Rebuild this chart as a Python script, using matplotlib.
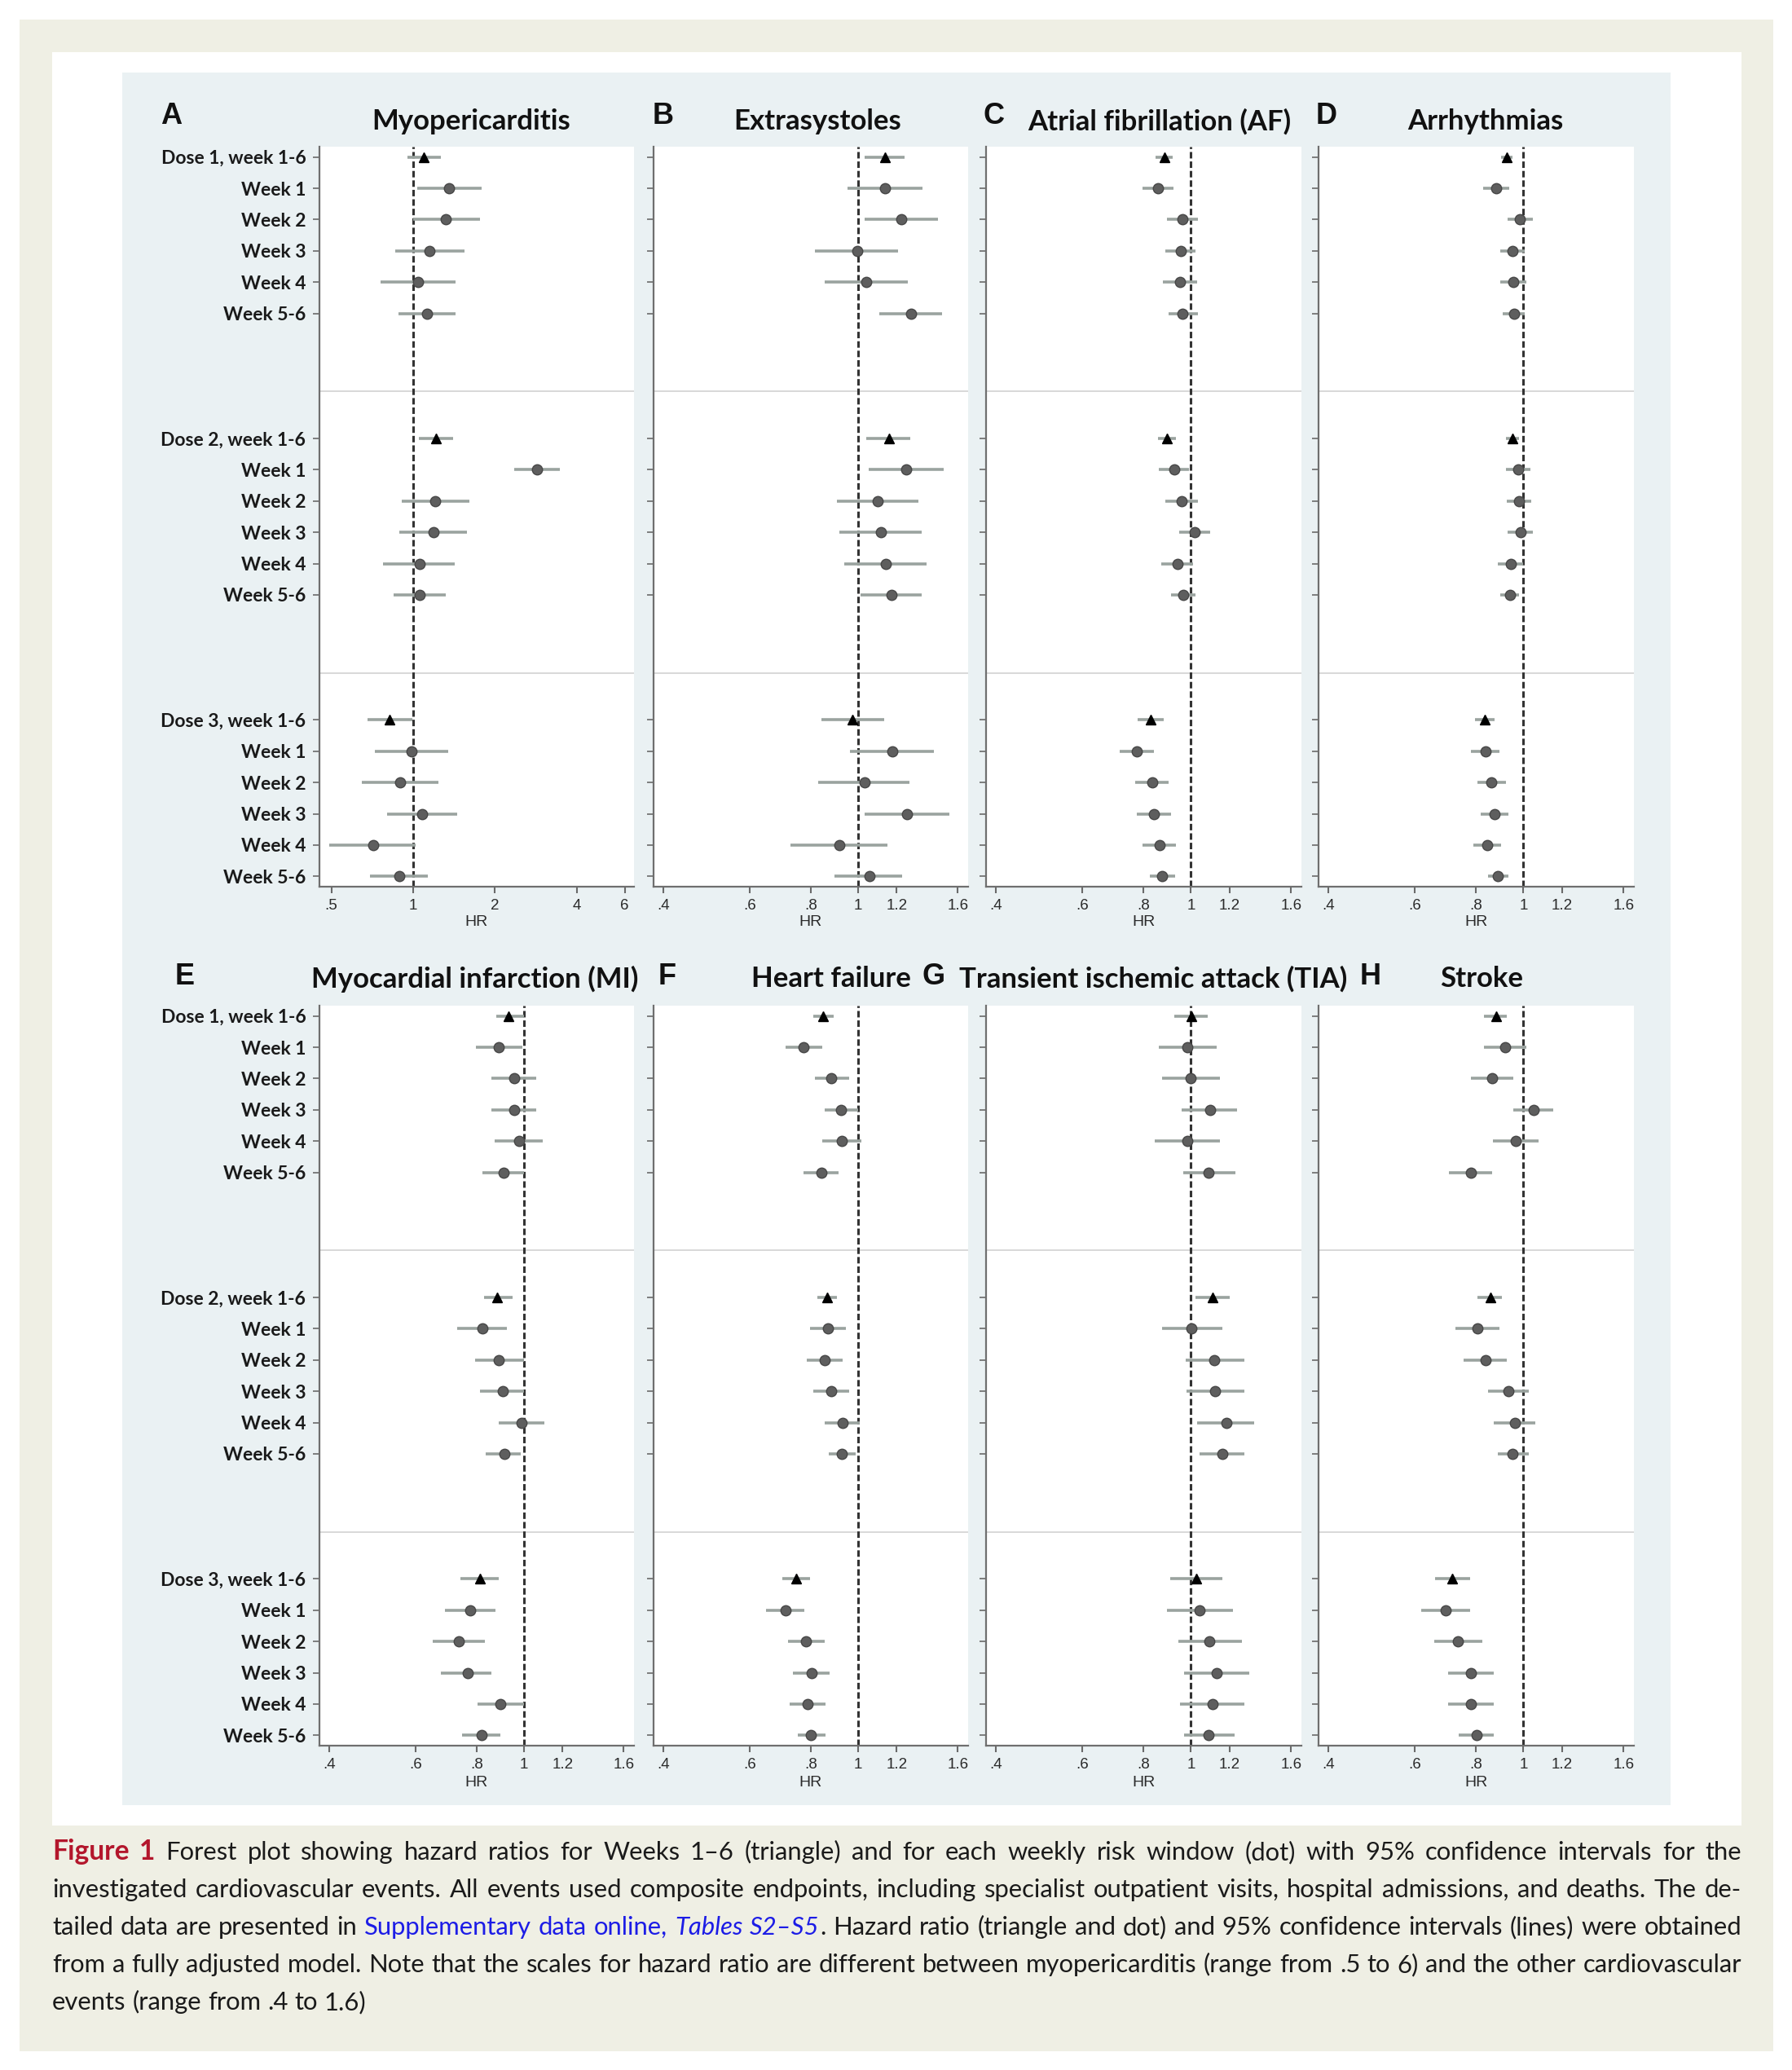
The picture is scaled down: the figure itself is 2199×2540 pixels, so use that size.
import matplotlib
matplotlib.use("Agg")
import matplotlib.pyplot as plt
from matplotlib.patches import Rectangle
from matplotlib.ticker import NullLocator, FixedLocator, FixedFormatter
from matplotlib import font_manager
import numpy as np

# ---------------- data ----------------
row_labels = ["Dose 1, week 1-6", "Week 1", "Week 2", "Week 3", "Week 4", "Week 5-6",
              "Dose 2, week 1-6", "Week 1", "Week 2", "Week 3", "Week 4", "Week 5-6",
              "Dose 3, week 1-6", "Week 1", "Week 2", "Week 3", "Week 4", "Week 5-6"]

# A Myopericarditis
myo_hr = [1.091, 1.359, 1.321, 1.151, 1.040, 1.122, 1.211, 2.847, 1.204, 1.184, 1.055, 1.055, 0.821, 0.983, 0.896, 1.076, 0.714, 0.886]
myo_lo = [0.951, 1.034, 1.000, 0.857, 0.757, 0.881, 1.052, 2.345, 0.906, 0.889, 0.776, 0.845, 0.680, 0.724, 0.647, 0.799, 0.492, 0.694]
myo_hi = [1.263, 1.790, 1.755, 1.546, 1.433, 1.433, 1.401, 3.474, 1.613, 1.582, 1.421, 1.314, 0.992, 1.343, 1.242, 1.453, 1.023, 1.135]
# B Extrasystoles
ext_hr = [1.135, 1.138, 1.225, 0.997, 1.040, 1.285, 1.157, 1.255, 1.099, 1.116, 1.142, 1.170, 0.976, 1.175, 1.031, 1.260, 0.916, 1.054]
ext_lo = [1.031, 0.951, 1.031, 0.818, 0.856, 1.106, 1.040, 1.051, 0.907, 0.918, 0.939, 1.014, 0.843, 0.964, 0.830, 1.031, 0.729, 0.896]
ext_hi = [1.247, 1.355, 1.456, 1.208, 1.265, 1.488, 1.281, 1.497, 1.330, 1.352, 1.383, 1.352, 1.130, 1.432, 1.273, 1.536, 1.149, 1.233]
# C Atrial fibrillation
af_hr = [0.883, 0.856, 0.962, 0.954, 0.950, 0.962, 0.892, 0.924, 0.956, 1.019, 0.938, 0.966, 0.829, 0.774, 0.834, 0.839, 0.864, 0.874]
af_lo = [0.847, 0.795, 0.892, 0.886, 0.876, 0.901, 0.856, 0.859, 0.887, 0.948, 0.870, 0.912, 0.779, 0.716, 0.770, 0.776, 0.798, 0.824]
af_hi = [0.918, 0.920, 1.032, 1.023, 1.030, 1.032, 0.932, 0.991, 1.032, 1.094, 1.010, 1.021, 0.881, 0.839, 0.901, 0.909, 0.933, 0.930]
# D Arrhythmias
arr_hr = [0.926, 0.879, 0.984, 0.949, 0.953, 0.956, 0.949, 0.977, 0.980, 0.986, 0.944, 0.938, 0.833, 0.836, 0.860, 0.874, 0.844, 0.888]
arr_lo = [0.902, 0.828, 0.929, 0.896, 0.897, 0.908, 0.921, 0.920, 0.923, 0.929, 0.886, 0.896, 0.797, 0.782, 0.807, 0.818, 0.789, 0.846]
arr_hi = [0.950, 0.935, 1.046, 1.005, 1.015, 1.005, 0.980, 1.035, 1.037, 1.046, 1.000, 0.981, 0.874, 0.892, 0.921, 0.931, 0.902, 0.932]
# E Myocardial infarction
mi_hr = [0.932, 0.889, 0.954, 0.954, 0.977, 0.908, 0.882, 0.823, 0.889, 0.906, 0.988, 0.911, 0.812, 0.776, 0.735, 0.767, 0.896, 0.820]
mi_lo = [0.880, 0.797, 0.859, 0.859, 0.873, 0.823, 0.829, 0.732, 0.794, 0.812, 0.887, 0.835, 0.741, 0.690, 0.651, 0.677, 0.803, 0.749]
mi_hi = [1.000, 0.992, 1.060, 1.060, 1.095, 1.000, 0.947, 0.925, 1.000, 1.000, 1.102, 0.984, 0.889, 0.876, 0.832, 0.859, 1.000, 0.896]
# F Heart failure
hf_hr = [0.848, 0.773, 0.883, 0.922, 0.928, 0.841, 0.865, 0.868, 0.854, 0.882, 0.929, 0.928, 0.749, 0.710, 0.783, 0.804, 0.790, 0.802]
hf_lo = [0.809, 0.710, 0.816, 0.854, 0.846, 0.773, 0.827, 0.799, 0.786, 0.811, 0.855, 0.870, 0.700, 0.648, 0.719, 0.737, 0.725, 0.752]
hf_hi = [0.891, 0.844, 0.960, 1.000, 1.016, 0.914, 0.905, 0.944, 0.932, 0.958, 1.010, 0.990, 0.799, 0.776, 0.855, 0.876, 0.860, 0.860]
# G Transient ischemic attack
tia_hr = [1.001, 0.985, 1.000, 1.094, 0.982, 1.088, 1.108, 1.004, 1.116, 1.119, 1.181, 1.158, 1.027, 1.043, 1.091, 1.129, 1.105, 1.087]
tia_lo = [0.926, 0.861, 0.872, 0.958, 0.845, 0.964, 1.023, 0.872, 0.975, 0.979, 1.030, 1.043, 0.906, 0.895, 0.942, 0.969, 0.950, 0.969]
tia_hi = [1.080, 1.130, 1.145, 1.244, 1.145, 1.231, 1.200, 1.158, 1.283, 1.285, 1.347, 1.285, 1.160, 1.216, 1.271, 1.313, 1.285, 1.227]
# H Stroke
str_hr = [0.879, 0.917, 0.863, 1.048, 0.965, 0.782, 0.855, 0.805, 0.837, 0.931, 0.959, 0.949, 0.715, 0.693, 0.736, 0.780, 0.780, 0.802]
str_lo = [0.830, 0.830, 0.780, 0.953, 0.866, 0.706, 0.807, 0.726, 0.755, 0.846, 0.869, 0.885, 0.660, 0.619, 0.659, 0.702, 0.702, 0.738]
str_hi = [0.926, 1.013, 0.955, 1.149, 1.075, 0.863, 0.905, 0.894, 0.926, 1.026, 1.059, 1.024, 0.777, 0.779, 0.823, 0.871, 0.871, 0.871]

titles = ["Myopericarditis", "Extrasystoles", "Atrial fibrillation (AF)", "Arrhythmias",
          "Myocardial infarction (MI)", "Heart failure", "Transient ischemic attack (TIA)", "Stroke"]
letters = ["A", "B", "C", "D", "E", "F", "G", "H"]
myo_ticks = [0.5, 1, 2, 4, 6]
myo_ticklabels = [".5", "1", "2", "4", "6"]
std_ticks = [0.4, 0.6, 0.8, 1, 1.2, 1.6]
std_ticklabels = [".4", ".6", ".8", "1", "1.2", "1.6"]

series = [(myo_hr, myo_lo, myo_hi), (ext_hr, ext_lo, ext_hi), (af_hr, af_lo, af_hi), (arr_hr, arr_lo, arr_hi),
          (mi_hr, mi_lo, mi_hi), (hf_hr, hf_lo, hf_hi), (tia_hr, tia_lo, tia_hi), (str_hr, str_lo, str_hi)]

# ---------------- fonts ----------------
avail = {f.name for f in font_manager.fontManager.ttflist}
def pick(*names):
    for n in names:
        if n in avail:
            return n
    return "DejaVu Sans"
LAB_FONT = pick("Lato", "Open Sans", "DejaVu Sans")
AX_FONT = pick("Liberation Sans", "DejaVu Sans")
CAP_FONT = pick("Liberation Sans Narrow", "Lato", "Open Sans")

# ---------------- figure ----------------
W, H = 2199, 2540
fig = plt.figure(figsize=(W / 100, H / 100), dpi=100, facecolor="white")

def fx(x):
    return x / W

def fy(y):
    return 1 - y / H

def rect(x0, y0, x1, y1, color, z):
    fig.patches.append(Rectangle((fx(x0), fy(y1)), (x1 - x0) / W, (y1 - y0) / H,
                                 transform=fig.transFigure, facecolor=color,
                                 edgecolor="none", zorder=z))

rect(24, 24, 2176, 2517, "#efefe4", -3)
rect(64, 64, 2137, 2240, "#ffffff", -2)
rect(150, 89, 2050, 2215, "#eaf1f3", -1)

col_x = [(392, 778), (802, 1188), (1210, 1597), (1618, 2005)]
row_y = [(180, 1088), (1234, 2142)]
title_cx = [578, 1003, 1423, 1823, 583, 1020, 1415, 1818]
letter_x = [197, 801, 1206, 1615, 215, 808, 1131, 1669]
title_y = [149, 1201]
letter_y = [143, 1199]
hr_y = [1132, 2188]

ypos = np.array([9 * (i // 6) + (i % 6) for i in range(18)], dtype=float)
tri_rows = [0, 6, 12]

CI_COL = "#9aa39f"
DOT_FACE = "#5e5e5e"
DOT_EDGE = "#474747"

for k in range(8):
    r, c = divmod(k, 4)
    x0, x1 = col_x[c]
    y0, y1 = row_y[r]
    ax = fig.add_axes([fx(x0), fy(y1), (x1 - x0) / W, (y1 - y0) / H])
    ax.set_facecolor("white")
    ax.set_xscale("log")
    hr, lo, hi = [np.array(a) for a in series[k]]
    if k == 0:
        ax.set_xlim(0.452, 6.49)
        ticks, tlabels = myo_ticks, myo_ticklabels
    else:
        ax.set_xlim(0.382, 1.68)
        ticks, tlabels = std_ticks, std_ticklabels
    ax.set_ylim(23.33, -0.33)
    ax.xaxis.set_major_locator(FixedLocator(ticks))
    ax.xaxis.set_major_formatter(FixedFormatter(tlabels))
    ax.xaxis.set_minor_locator(NullLocator())
    ax.set_yticks(ypos)
    if c == 0:
        ax.set_yticklabels(row_labels, fontfamily=LAB_FONT, fontweight="bold",
                           fontsize=16.5, color="#1a1a1a")
    else:
        ax.set_yticklabels([])
    ax.tick_params(axis="y", length=6, width=1.2, color="#6a6a6a", pad=6, direction="out")
    ax.tick_params(axis="x", length=6, width=1.5, color="#6a6a6a", pad=5,
                   labelsize=13.5, labelcolor="#2a2a2a", direction="out")
    for lab in ax.get_xticklabels():
        lab.set_fontfamily(AX_FONT)
    for s in ["top", "right"]:
        ax.spines[s].set_visible(False)
    for s in ["left", "bottom"]:
        ax.spines[s].set_color("#6f6f6f")
        ax.spines[s].set_linewidth(1.6)

    for sep in (7.5, 16.5):
        ax.axhline(sep, color="#d6d6d6", lw=1.3, zorder=0.5)
    ax.axvline(1, color="#333333", lw=2.2, linestyle=(0, (2.6, 1.2)), zorder=1.5)
    ax.hlines(ypos, lo, hi, color=CI_COL, lw=2.6, zorder=2)
    dots = [i for i in range(18) if i not in tri_rows]
    ax.plot(hr[dots], ypos[dots], linestyle="none", marker="o", markersize=9,
            markerfacecolor=DOT_FACE, markeredgecolor=DOT_EDGE, markeredgewidth=1.0, zorder=3)
    ax.plot(hr[tri_rows], ypos[tri_rows], linestyle="none", marker="^", markersize=9,
            markerfacecolor="black", markeredgecolor="black", zorder=3)

    fig.text(fx((x0 + x1) / 2), fy(hr_y[r]), "HR", ha="center", va="center",
             fontfamily=AX_FONT, fontsize=14, color="#2a2a2a")
    fig.text(fx(title_cx[k]), fy(title_y[r]), titles[k], ha="center", va="center",
             fontfamily=LAB_FONT, fontweight="bold", fontsize=25, color="#111111")
    fig.text(fx(letter_x[k]), fy(letter_y[r]), letters[k], ha="left", va="center",
             fontfamily=AX_FONT, fontweight="bold", fontsize=26, color="#111111")

# ---------------- caption (justified) ----------------
cap_lines = [
    [("Figure 1", "r"), (" Forest plot showing hazard ratios for Weeks 1\u20136 (triangle) and for each weekly risk window (dot) with 95% confidence intervals for the", "n")],
    [("investigated cardiovascular events. All events used composite endpoints, including specialist outpatient visits, hospital admissions, and deaths. The de-", "n")],
    [("tailed data are presented in ", "n"), ("Supplementary data online, ", "b"), ("Tables S2\u2013S5", "bi"),
     (". Hazard ratio (triangle and dot) and 95% confidence intervals (lines) were obtained", "n")],
    [("from a fully adjusted model. Note that the scales for hazard ratio are different between myopericarditis (range from .5 to 6) and the other cardiovascular", "n")],
    [("events (range from .4 to 1.6)", "n")],
]
cap_base = [2282, 2328, 2374, 2420, 2466]
cap_x0, cap_x1 = 64, 2137

def style(st, fs):
    d = dict(fontfamily=CAP_FONT, fontsize=fs, color="#1a1a1a")
    if st == "r":
        d.update(color="#b3162c", fontweight="bold", fontsize=fs * 1.08)
    elif st == "b":
        d.update(color="#1c1ce6")
    elif st == "bi":
        d.update(color="#1c1ce6", fontstyle="italic")
    return d

def to_words(chunks):
    words = [[]]
    for text, st in chunks:
        parts = text.split(" ")
        for j, p in enumerate(parts):
            if j > 0:
                words.append([])
            if p:
                words[-1].append((p, st))
    return [w for w in words if w]

renderer = fig.canvas.get_renderer()

def measure(s, st, fs):
    t = fig.text(0, 0, s, **style(st, fs))
    w = t.get_window_extent(renderer).width
    t.remove()
    return w

def space_w(fs):
    return measure("a a", "n", fs) - measure("aa", "n", fs)

trial = 22.0
target = 23.0
nat = []
for chunks in cap_lines[:-1]:
    words = to_words(chunks)
    tot = sum(measure(s, st, trial) for w in words for s, st in w) + space_w(trial) * (len(words) - 1)
    nat.append(tot)
cap_fs = min(target, trial * (cap_x1 - cap_x0) / max(nat) * 0.995)

for li, chunks in enumerate(cap_lines):
    words = to_words(chunks)
    widths = [[measure(s, st, cap_fs) for s, st in w] for w in words]
    wsum = sum(sum(w) for w in widths)
    if li < len(cap_lines) - 1 and len(words) > 1:
        gap = (cap_x1 - cap_x0 - wsum) / (len(words) - 1)
    else:
        gap = space_w(cap_fs)
    x = cap_x0
    for w, ws in zip(words, widths):
        for (s, st), sw in zip(w, ws):
            fig.text(fx(x), fy(cap_base[li]), s, ha="left", va="baseline", **style(st, cap_fs))
            x += sw
        x += gap

fig.savefig("out.png", dpi=100, facecolor=fig.get_facecolor())
